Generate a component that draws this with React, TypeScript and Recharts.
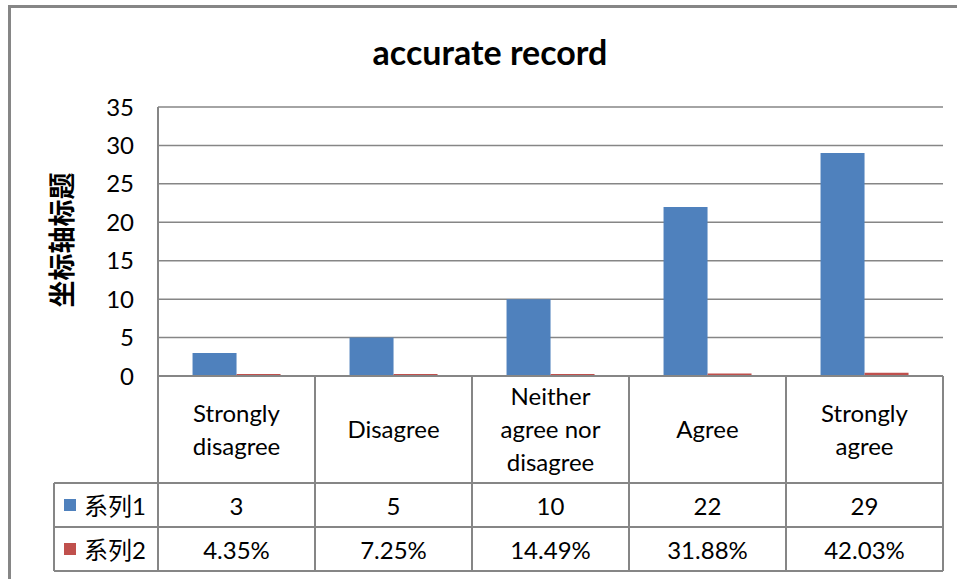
import { Bar, BarChart, CartesianGrid, XAxis, YAxis } from 'recharts'

const categories = ['Strongly disagree', 'Disagree', 'Neither agree nor disagree', 'Agree', 'Strongly agree']
const categoryLines = [['Strongly', 'disagree'], ['Disagree'], ['Neither', 'agree nor', 'disagree'], ['Agree'], ['Strongly', 'agree']]
const series1 = [3, 5, 10, 22, 29]
const series2Pct = [4.35, 7.25, 14.49, 31.88, 42.03]
const seriesNames = ['系列1', '系列2']
const seriesColors = ['#4F81BD', '#C0504D']
const yTicks = [0, 5, 10, 15, 20, 25, 30, 35]
const title = 'accurate record'
const yTitle = '坐标轴标题'

const data = categories.map((name, i) => ({ name, s1: series1[i], s2: series2Pct[i] / 100 }))

const W = 957
const H = 579
const PLOT_LEFT = 158
const PLOT_RIGHT = 943
const PLOT_TOP = 107
const AXIS_Y = 376
const ROW1 = 483
const ROW2 = 527
const ROW3 = 571
const LEGEND_LEFT = 54
const GRID = '#868686'
const FONT = "Lato, 'Noto Sans CJK SC', sans-serif"
const HALF = (PLOT_RIGHT - PLOT_LEFT) / categories.length / 2

function TableTick(props: any) {
  const { x, payload } = props
  const i = payload.index
  const left = x - HALF
  const right = x + HALF
  const lines = categoryLines[i]
  const headerMid = (AXIS_Y + ROW1) / 2
  const rowMid1 = (ROW1 + ROW2) / 2
  const rowMid2 = (ROW2 + ROW3) / 2
  const line = { stroke: GRID, strokeWidth: 2 }
  const txt = { fontFamily: FONT, fontSize: 24, fill: '#000', dominantBaseline: 'central' as const }
  return (
    <g>
      {i === 0 && <line x1={left} y1={AXIS_Y} x2={left} y2={ROW3} {...line} />}
      <line x1={right} y1={AXIS_Y} x2={right} y2={ROW3} {...line} />
      {[ROW1, ROW2, ROW3].map((yy) => (
        <line key={yy} x1={left} y1={yy} x2={right} y2={yy} {...line} />
      ))}
      {lines.map((t, k) => (
        <text key={k} x={x} y={headerMid - 1 + (k - (lines.length - 1) / 2) * 33} textAnchor="middle" {...txt}>
          {t}
        </text>
      ))}
      <text x={x} y={rowMid1} textAnchor="middle" {...txt}>
        {series1[i]}
      </text>
      <text x={x} y={rowMid2} textAnchor="middle" {...txt}>
        {series2Pct[i].toFixed(2) + '%'}
      </text>
      {i === 0 && (
        <g>
          <line x1={LEGEND_LEFT} y1={ROW1} x2={LEGEND_LEFT} y2={ROW3} {...line} />
          {[ROW1, ROW2, ROW3].map((yy) => (
            <line key={yy} x1={LEGEND_LEFT} y1={yy} x2={left} y2={yy} {...line} />
          ))}
          {seriesNames.map((n, k) => {
            const cy = k === 0 ? rowMid1 : rowMid2
            return (
              <g key={n}>
                <rect x={64} y={cy - 6} width={12} height={12} fill={seriesColors[k]} />
                <text x={84} y={cy} textAnchor="start" {...txt}>
                  {n}
                </text>
              </g>
            )
          })}
        </g>
      )}
    </g>
  )
}

function YTitle() {
  return (
    <text
      x={60}
      y={240}
      transform="rotate(-90 60 240)"
      textAnchor="middle"
      dominantBaseline="central"
      fontFamily="'Noto Sans CJK SC', sans-serif"
      fontWeight="bold"
      fontSize={27}
      fill="#000"
    >
      {yTitle}
    </text>
  )
}

export default function App() {
  return (
    <div style={{ position: 'absolute', left: 0, top: 0, width: W, height: H, overflow: 'hidden', background: '#fff' }}>
      <div
        style={{
          position: 'absolute',
          left: 8,
          top: 5,
          width: 980,
          height: 620,
          border: `3px solid ${GRID}`,
          boxSizing: 'border-box',
        }}
      />
      <div
        style={{
          position: 'absolute',
          left: 0,
          width: 980,
          top: 30,
          textAlign: 'center',
          fontFamily: FONT,
          fontWeight: 'bold',
          fontSize: 34,
          lineHeight: '44px',
          color: '#000',
        }}
      >
        {title}
      </div>
      <div style={{ position: 'absolute', left: 0, top: 0 }}>
        <BarChart
          width={W}
          height={H}
          data={data}
          margin={{ top: PLOT_TOP, right: W - PLOT_RIGHT, bottom: 0, left: PLOT_LEFT - 110 }}
          barCategoryGap="22%"
          barGap={0}
        >
          <CartesianGrid horizontal vertical={false} stroke={GRID} strokeWidth={1.5} />
          <XAxis
            dataKey="name"
            height={H - AXIS_Y}
            interval={0}
            tickLine={false}
            tickSize={0}
            tickMargin={0}
            axisLine={{ stroke: GRID, strokeWidth: 2 }}
            tick={<TableTick />}
          />
          <YAxis
            width={110}
            domain={[0, 35]}
            ticks={yTicks}
            interval={0}
            tickLine={false}
            tickSize={0}
            tickMargin={24}
            axisLine={{ stroke: GRID, strokeWidth: 2 }}
            tick={{ fontSize: 24, fill: '#000', fontFamily: FONT }}
            label={{ content: () => <YTitle /> }}
          />
          <Bar dataKey="s1" name={seriesNames[0]} fill={seriesColors[0]} isAnimationActive={false} />
          <Bar dataKey="s2" name={seriesNames[1]} fill={seriesColors[1]} minPointSize={2} isAnimationActive={false} />
        </BarChart>
      </div>
    </div>
  )
}
